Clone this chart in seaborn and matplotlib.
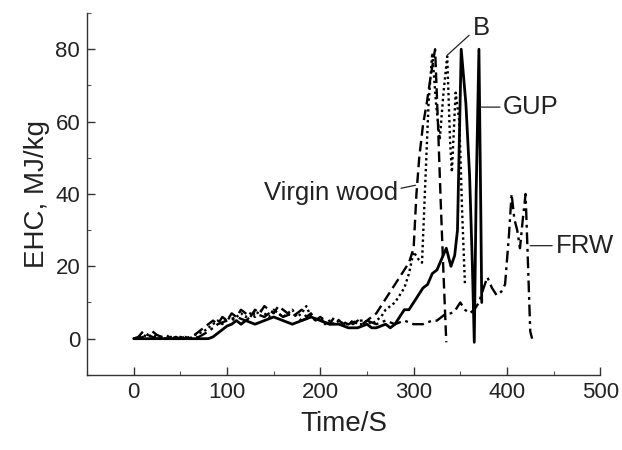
import numpy as np
import pandas as pd
import matplotlib
matplotlib.use("Agg")
import matplotlib.pyplot as plt
import seaborn as sns
from matplotlib.ticker import MultipleLocator

# ---- data ----
vw_t = [0, 5, 10, 15, 20, 25, 30, 35, 40, 45, 50, 55, 60, 65, 70, 75, 80, 85, 90, 95,
        100, 105, 110, 115, 120, 125, 130, 135, 140, 145, 150, 155, 160, 165, 170, 175,
        180, 185, 190, 195, 200, 205, 210, 215, 220, 225, 230, 235, 240, 245, 250, 255,
        260, 265, 270, 275, 280, 285, 290, 295, 300, 303, 306, 310, 314, 318, 323, 326,
        329, 332, 335]
vw_y = [0, 0, 0.5, 1, 0.5, 0, 0, 0, 0, 0, 0.5, 0, 0.5, 1, 2, 3, 4, 5, 4, 6,
        5, 7, 6, 8, 7, 6, 8, 7, 9, 8, 7, 9, 8, 7, 6, 7,
        8, 6, 7, 5, 6, 5, 4, 6, 5, 4, 5, 4, 5, 4, 5, 6,
        7, 9, 11, 13, 15, 17, 19, 21, 25, 40, 50, 59, 65, 72, 80, 60,
        38, 18, -1]

b_t = [0, 5, 10, 15, 20, 25, 30, 35, 40, 45, 50, 55, 60, 65, 70, 75, 80, 85, 90, 95,
       100, 105, 110, 115, 120, 125, 130, 135, 140, 145, 150, 155, 160, 165, 170, 175,
       180, 185, 190, 195, 200, 205, 210, 215, 220, 225, 230, 235, 240, 245, 250, 255,
       260, 265, 270, 275, 280, 285, 290, 295, 300, 305, 309, 312, 316, 320, 324, 328,
       332, 336, 339, 341, 345, 349, 352, 355]
b_y = [0, 0.5, 1, 0.5, 1, 0.5, 0, 0, 0.5, 0, 0, 0.5, 0, 1, 1.5, 2, 3, 4, 5, 4,
       6, 5, 6, 7, 6, 7, 6, 8, 7, 6, 8, 7, 6, 7, 8, 6,
       7, 9, 6, 5, 6, 4, 5, 4, 5, 4, 4, 5, 4, 4, 5, 4,
       5, 6, 8, 9, 10, 12, 14, 18, 24, 22, 21, 40, 65, 79, 65, 55,
       68, 78, 55, 46, 68, 60, 35, 15]

gup_t = [0, 20, 40, 60, 80, 85, 90, 95, 100, 105, 110, 115, 120, 130, 140, 150, 160, 170,
         180, 190, 200, 210, 220, 230, 240, 250, 255, 260, 270, 275, 280, 285, 290, 295,
         300, 305, 310, 315, 320, 325, 330, 335, 340, 344, 347, 351, 356, 360, 363, 365,
         367, 370, 372, 373]
gup_y = [0, 0, 0, 0, 0, 0.5, 1.5, 2.5, 3.5, 4, 5, 4, 5, 4, 5, 6, 5, 4,
         5, 6, 5, 4, 4, 3, 3, 4, 3, 3, 4, 3, 4, 6, 8, 8,
         10, 12, 14, 15, 18, 19, 22, 25, 20, 23, 30, 80, 65, 45, 20, -1,
         40, 80, 35, 10]

frw_t = [0, 5, 10, 15, 20, 25, 30, 35, 40, 45, 50, 55, 60, 70, 80, 90, 100, 110, 120,
         130, 140, 150, 160, 170, 180, 190, 200, 210, 220, 230, 240, 250, 260, 270, 280,
         290, 300, 310, 320, 325, 330, 335, 340, 345, 350, 355, 360, 365, 370, 375, 379,
         384, 389, 394, 398, 402, 405, 408, 411, 414, 417, 420, 422, 425, 427]
frw_y = [0, 0.5, 2, 1, 2, 1, 0.5, 1, 0, 0.5, 0, 0.5, 0, 0.5, 2, 4, 5, 6, 5,
         7, 6, 8, 6, 7, 5, 6, 5, 4, 5, 4, 5, 5, 4, 5, 4,
         5, 4, 4, 5, 5, 6, 7, 7, 8, 10, 8, 7, 8, 10, 14, 17,
         14, 12, 13, 15, 28, 40, 33, 30, 25, 33, 40, 25, 2, 0]

x_ticks = [0, 100, 200, 300, 400, 500]
y_ticks = [0, 20, 40, 60, 80]

# ---- figure ----
sns.set_theme(style="ticks")
plt.rcParams["font.family"] = ["Liberation Sans", "DejaVu Sans"]

fig = plt.figure(figsize=(6.22, 4.5), dpi=100)
ax = fig.add_axes([0.14, 0.167, 0.825, 0.804])

sns.lineplot(x=vw_t, y=vw_y, ax=ax, color="black", lw=1.7, estimator=None,
             linestyle=(0, (4.5, 2.2)))
sns.lineplot(x=b_t, y=b_y, ax=ax, color="black", lw=1.7, estimator=None,
             linestyle=(0, (1, 1.3)))
sns.lineplot(x=gup_t, y=gup_y, ax=ax, color="black", lw=2.0, estimator=None,
             linestyle="-")
sns.lineplot(x=frw_t, y=frw_y, ax=ax, color="black", lw=1.7, estimator=None,
             linestyle=(0, (5, 2, 1.2, 2)))

ax.set_xlim(-50, 500)
ax.set_ylim(-10, 90)
ax.set_xticks(x_ticks)
ax.set_yticks(y_ticks)
ax.xaxis.set_minor_locator(MultipleLocator(50))
ax.yaxis.set_minor_locator(MultipleLocator(10))
ax.tick_params(which="major", direction="in", length=6, width=1, color="#333333",
               labelsize=16, labelcolor="#222222", pad=5)
ax.tick_params(which="minor", direction="in", length=3, width=0.8, color="#555555")
for s in ["top", "right"]:
    ax.spines[s].set_visible(False)
for s in ["left", "bottom"]:
    ax.spines[s].set_color("#333333")
    ax.spines[s].set_linewidth(1.0)

ax.set_xlabel("Time/S", fontsize=20, color="#222222", labelpad=6)
ax.set_ylabel("EHC, MJ/kg", fontsize=20, color="#222222", labelpad=4)

ann_kw = dict(fontsize=18.5, color="#222222", va="center")
line_kw = dict(arrowstyle="-", color="#222222", lw=0.9, shrinkA=0, shrinkB=0)
ax.annotate("Virgin wood", xy=(302, 42.4), xytext=(283, 40.4), ha="right",
            arrowprops=dict(relpos=(1, 0.65), **line_kw), **ann_kw)
ax.annotate("GUP", xy=(371.5, 64), xytext=(396, 64), ha="left",
            arrowprops=dict(relpos=(0, 0.5), **line_kw), **ann_kw)
ax.annotate("B", xy=(335.8, 78.3), xytext=(363, 86), ha="left",
            arrowprops=dict(relpos=(0, 0.3), **line_kw), **ann_kw)
ax.annotate("FRW", xy=(425, 25.7), xytext=(452, 25.7), ha="left",
            arrowprops=dict(relpos=(0, 0.5), **line_kw), **ann_kw)

fig.savefig("out.png", dpi=100)
